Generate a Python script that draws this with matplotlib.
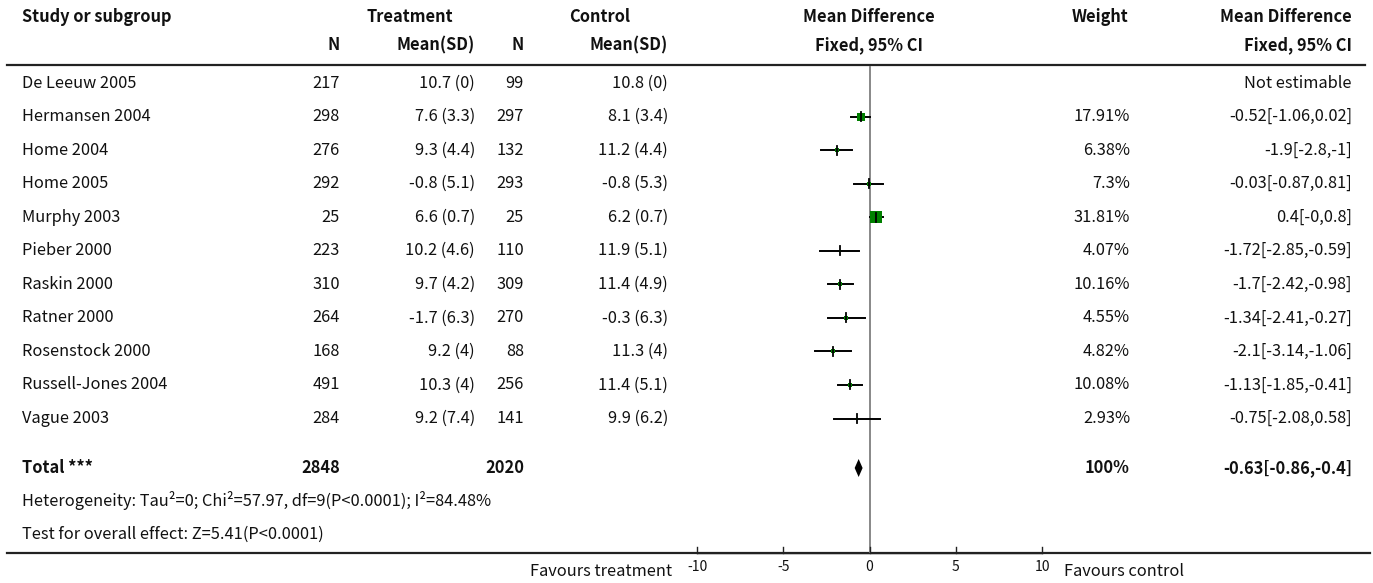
import matplotlib
matplotlib.use("Agg")
import matplotlib.pyplot as plt

plt.rcParams['font.family'] = ['Noto Sans CJK SC', 'DejaVu Sans']

# ---------------- data ----------------
studies = ["De Leeuw 2005", "Hermansen 2004", "Home 2004", "Home 2005", "Murphy 2003",
           "Pieber 2000", "Raskin 2000", "Ratner 2000", "Rosenstock 2000",
           "Russell-Jones 2004", "Vague 2003"]
t_n = [217, 298, 276, 292, 25, 223, 310, 264, 168, 491, 284]
t_mean = [10.7, 7.6, 9.3, -0.8, 6.6, 10.2, 9.7, -1.7, 9.2, 10.3, 9.2]
t_sd = [0, 3.3, 4.4, 5.1, 0.7, 4.6, 4.2, 6.3, 4, 4, 7.4]
c_n = [99, 297, 132, 293, 25, 110, 309, 270, 88, 256, 141]
c_mean = [10.8, 8.1, 11.2, -0.8, 6.2, 11.9, 11.4, -0.3, 11.3, 11.4, 9.9]
c_sd = [0, 3.4, 4.4, 5.3, 0.7, 5.1, 4.9, 6.3, 4, 5.1, 6.2]
weights = [None, 17.91, 6.38, 7.3, 31.81, 4.07, 10.16, 4.55, 4.82, 10.08, 2.93]
md = [None, -0.52, -1.9, -0.03, 0.4, -1.72, -1.7, -1.34, -2.1, -1.13, -0.75]
ci_lo = [None, -1.06, -2.8, -0.87, -0.0, -2.85, -2.42, -2.41, -3.14, -1.85, -2.08]
ci_hi = [None, 0.02, -1, 0.81, 0.8, -0.59, -0.98, -0.27, -1.06, -0.41, 0.58]
total_t_n = 2848
total_c_n = 2020
total_weight = 100
total_md, total_lo, total_hi = -0.63, -0.86, -0.4
heterogeneity = "Heterogeneity: Tau²=0; Chi²=57.97, df=9(P<0.0001); I²=84.48%"
overall = "Test for overall effect: Z=5.41(P<0.0001)"
x_ticks = [-10, -5, 0, 5, 10]

# ---------------- layout ----------------
W, H = 1373, 583
fig = plt.figure(figsize=(W / 100, H / 100), dpi=100)
tax = fig.add_axes([0, 0, 1, 1])
tax.set_xlim(0, W)
tax.set_ylim(H, 0)
tax.axis('off')

px_per_unit = 17.25
x0_px = 869.5
fax = fig.add_axes([0, 0, 1, 1])
fax.set_xlim(-x0_px / px_per_unit, (W - x0_px) / px_per_unit)
fax.set_ylim(H, 0)
fax.axis('off')
fax.patch.set_alpha(0)

fs = 11.8
col = '#111111'
row_y = [83 + 33.55 * i for i in range(len(studies))]
y_total, y_het, y_test = 468, 501, 534
y_h1, y_h2 = 17, 45
y_line_top, y_line_bot = 65, 553

x_name = 22
x_tn, x_tm, x_cn, x_cm = 340, 475, 524, 668
x_w, x_ci = 1130, 1352

# headers
hb = dict(fontsize=fs, fontweight='bold', color=col, va='center')
tax.text(x_name, y_h1, "Study or subgroup", ha='left', **hb)
tax.text(410, y_h1, "Treatment", ha='center', **hb)
tax.text(600, y_h1, "Control", ha='center', **hb)
tax.text(869, y_h1, "Mean Difference", ha='center', **hb)
tax.text(x_w - 2, y_h1, "Weight", ha='right', **hb)
tax.text(x_ci, y_h1, "Mean Difference", ha='right', **hb)
tax.text(x_tn, y_h2, "N", ha='right', **hb)
tax.text(x_tm, y_h2, "Mean(SD)", ha='right', **hb)
tax.text(x_cn, y_h2, "N", ha='right', **hb)
tax.text(x_cm, y_h2, "Mean(SD)", ha='right', **hb)
tax.text(869, y_h2, "Fixed, 95% CI", ha='center', **hb)
tax.text(x_ci, y_h2, "Fixed, 95% CI", ha='right', **hb)

tax.plot([7, 1365], [y_line_top, y_line_top], color='#222222', lw=1.6)
tax.plot([7, 1370], [y_line_bot, y_line_bot], color='#222222', lw=1.6)

# zero line
fax.plot([0, 0], [y_line_top + 2, y_line_bot], color='#888888', lw=1.4, zorder=1)

tn = dict(fontsize=fs, color=col, va='center')
for i, s in enumerate(studies):
    y = row_y[i]
    tax.text(x_name, y, s, ha='left', **tn)
    tax.text(x_tn, y, f"{t_n[i]}", ha='right', **tn)
    tax.text(x_tm, y, f"{t_mean[i]:g} ({t_sd[i]:g})", ha='right', **tn)
    tax.text(x_cn, y, f"{c_n[i]}", ha='right', **tn)
    tax.text(x_cm, y, f"{c_mean[i]:g} ({c_sd[i]:g})", ha='right', **tn)
    if md[i] is None:
        tax.text(x_ci, y, "Not estimable", ha='right', **tn)
        continue
    tax.text(x_w, y, f"{weights[i]:g}%", ha='right', **tn)
    tax.text(x_ci, y, f"{md[i]:g}[{ci_lo[i]:g},{ci_hi[i]:g}]", ha='right', **tn)
    fax.plot([ci_lo[i], ci_hi[i]], [y, y], color='black', lw=1.4, zorder=2)
    side_px = 0.33 * weights[i] + 1.5
    fax.plot([md[i]], [y], marker='s', ms=side_px * 0.72, color='#008000',
             mec='#008000', mew=0, ls='none', zorder=3)
    fax.plot([md[i], md[i]], [y - 4.5, y + 4.5], color='black', lw=1.3, zorder=4)

# total
tax.text(x_name, y_total, "Total ***", ha='left', **hb)
tax.text(x_tn, y_total, f"{total_t_n}", ha='right', **hb)
tax.text(x_cn, y_total, f"{total_c_n}", ha='right', **hb)
tax.text(x_w, y_total, f"{total_weight}%", ha='right', **hb)
tax.text(x_ci, y_total, f"{total_md:g}[{total_lo:g},{total_hi:g}]", ha='right', **hb)
fax.fill([total_lo, total_md, total_hi, total_md],
         [y_total, y_total - 9, y_total, y_total + 9], color='black', lw=0, zorder=3)

tax.text(x_name, y_het, heterogeneity, ha='left', **tn)
tax.text(x_name, y_test, overall, ha='left', **tn)

# axis ticks
for t in x_ticks:
    fax.plot([t, t], [y_line_bot - 6, y_line_bot], color='#222222', lw=1.0)
    fax.text(t, 567, f"{t}", ha='center', va='center', fontsize=10, color=col)
fax.plot([x_ticks[0], x_ticks[-1]], [y_line_bot - 0.5, y_line_bot - 0.5], color='#222222', lw=1.0)

tax.text(672, 572, "Favours treatment", ha='right', va='center', fontsize=fs, color=col)
tax.text(1064, 572, "Favours control", ha='left', va='center', fontsize=fs, color=col)

fig.savefig("out.png", dpi=100)
